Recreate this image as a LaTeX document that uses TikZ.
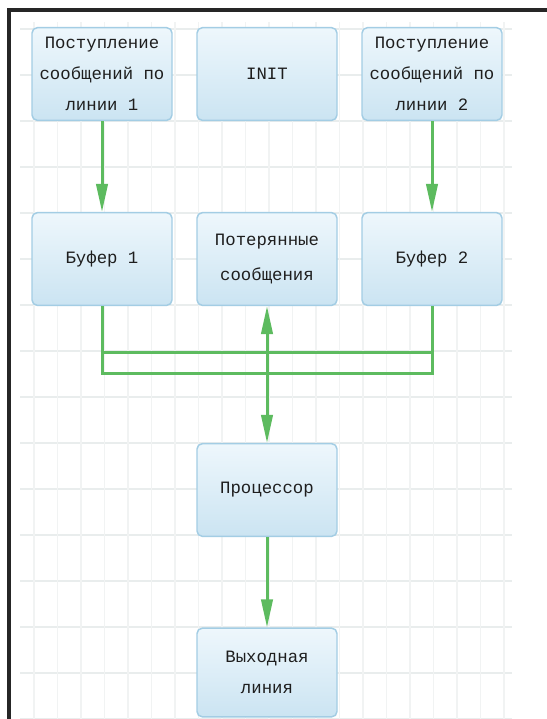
\documentclass[tikz,border=0pt]{standalone}
\usepackage{fontspec}
\setmonofont{Liberation Mono}
\usetikzlibrary{arrows.meta}

\definecolor{flowgreen}{HTML}{5DBB5F}
\definecolor{boxedge}{HTML}{A3CDE4}
\definecolor{boxtop}{HTML}{EEF7FC}
\definecolor{boxbottom}{HTML}{CBE4F2}
\definecolor{gridmajor}{HTML}{E9EDED}
\definecolor{gridminor}{HTML}{F1F3F3}
\definecolor{labeltext}{HTML}{1E1E1E}
\definecolor{framecol}{HTML}{262626}

\begin{document}
\begin{tikzpicture}[x=0.75pt,y=-0.75pt,
  block/.style={draw=boxedge, line width=1.1pt, rounded corners=4pt,
    top color=boxtop, bottom color=boxbottom,
    minimum width=105pt, minimum height=69.5pt, inner sep=0pt,
    align=center, text=labeltext,
    font=\ttfamily\fontsize{13}{23}\selectfont},
  flow/.style={draw=flowgreen, line width=2.25pt},
  arrowed/.style={flow, -{Triangle[length=21pt,width=8.5pt]}}
]
\useasboundingbox (0,0) rectangle (547,719);
\fill[white] (0,0) rectangle (547,719);

% background grid
\foreach \y in {29,75,...,719}
  \draw[gridmajor, line width=0.8pt] (20,\y) -- (512,\y);
\foreach \x in {34,57.5,...,505}
  \draw[gridminor, line width=0.8pt] (\x,22) -- (\x,719);

% frame
\draw[framecol, line width=2.3pt] (9,719) -- (9,10) -- (547,10);

% blocks
\node[block] (in1)  at (102,74)  {Поступление\\сообщений по\\линии 1};
\node[block] (init) at (267,74)  {INIT};
\node[block] (in2)  at (432,74)  {Поступление\\сообщений по\\линии 2};
\node[block] (buf1) at (102,259) {Буфер 1};
\node[block] (lost) at (267,259) {Потерянные\\[3pt]сообщения};
\node[block] (buf2) at (432,259) {Буфер 2};
\node[block] (proc) at (267,490) {Процессор};
\node[block, minimum height=66.5pt] (out) at (267,672.5) {Выходная\\линия};

% junction points on the collecting bars
\coordinate (hubhigh) at (267,352);
\coordinate (hublow)  at (267,373);

% connectors
\draw[arrowed] (in1) -- (buf1);
\draw[arrowed] (in2) -- (buf2);
\draw[flow] (buf1.south) |- (hublow) -| (buf2.south);
\draw[flow] (buf1.south |- hubhigh) -- (buf2.south |- hubhigh);
\draw[arrowed] (hublow) -- (lost);
\draw[arrowed] (hubhigh) -- (proc);
\draw[arrowed] (proc) -- (out);
\end{tikzpicture}
\end{document}
